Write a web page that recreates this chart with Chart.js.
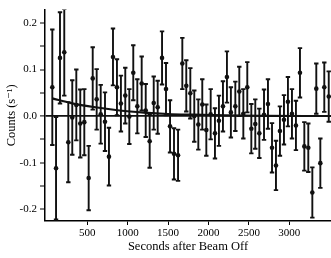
<!DOCTYPE html>
<html>
<head>
<meta charset="utf-8">
<script src="https://cdn.jsdelivr.net/npm/chart.js@4"></script>
<style>
  html, body { margin: 0; padding: 0; background: #fff; }
</style>
</head>
<body>
<canvas id="chart" width="331" height="258"></canvas>
<script>
// time bins (s after beam off), counts and 1-sigma errors
const seconds = [67, 113, 162, 215, 265, 314, 364, 413, 463, 517, 567, 616, 666, 719, 768, 818, 867, 916,
	970, 1020, 1069, 1119, 1173, 1223, 1272, 1322, 1371, 1425, 1474, 1524, 1573, 1623, 1676, 1725, 1775,
	1824, 1874, 1923, 1973, 2027, 2080, 2129, 2179, 2228, 2277, 2332, 2381, 2431, 2480, 2530, 2579, 2629,
	2687, 2736, 2786, 2835, 2884, 2934, 2983, 3033, 3082, 3132, 3186, 3235, 3285, 3334, 3384, 3433, 3488];
const counts = [0.062, -0.112, 0.125, 0.137, -0.056, -0.003, 0.024, -0.016, -0.013, -0.133, 0.081, 0.036,
	0.004, -0.012, -0.087, 0.127, 0.062, 0.027, 0.044, -0.001, 0.093, 0.021, 0.070, 0.012, -0.054, 0.028,
	0.019, 0.125, 0.058, -0.022, -0.081, -0.084, 0.113, 0.065, 0.049, 0.000, -0.018, 0.025, -0.030, 0.004,
	-0.037, -0.010, 0.021, 0.084, 0.008, 0.021, 0.053, 0.005, 0.062, -0.027, -0.017, -0.037, 0.003, 0.026,
	-0.068, -0.106, -0.032, -0.008, 0.031, 0.005, -0.020, 0.093, -0.065, -0.068, -0.164, 0.059, -0.101,
	0.062, 0.042];
const errors = [0.124, 0.110, 0.098, 0.093, 0.086, 0.080, 0.076, 0.073, 0.071, 0.069, 0.067, 0.065,
	0.063, 0.063, 0.062, 0.061, 0.060, 0.060, 0.060, 0.059, 0.059, 0.058, 0.058, 0.057, 0.057, 0.057,
	0.057, 0.057, 0.056, 0.056, 0.055, 0.055, 0.055, 0.055, 0.054, 0.055, 0.054, 0.054, 0.055, 0.054,
	0.054, 0.054, 0.054, 0.055, 0.054, 0.053, 0.053, 0.053, 0.054, 0.053, 0.053, 0.053, 0.054, 0.053,
	0.053, 0.053, 0.053, 0.053, 0.053, 0.053, 0.053, 0.053, 0.052, 0.052, 0.054, 0.054, 0.053, 0.053, 0.054];

// decay fit curve
const fitSeconds = [67, 300, 600, 900, 1200, 1500, 1800, 2200, 2700, 3200, 3516];
const fitCounts = [0.038, 0.028, 0.019, 0.012, 0.0075, 0.0045, 0.003, 0.0015, 0.0007, 0.0003, 0.0002];

const xTicks = [500, 1000, 1500, 2000, 2500, 3000];
const yTicks = [-0.2, -0.15, -0.1, -0.05, 0, 0.05, 0.1, 0.15, 0.2];

Chart.defaults.font.family = '"Liberation Serif", "DejaVu Serif", serif';
Chart.defaults.color = '#000';

const errorBars = {
	id: 'errorBars',
	beforeDatasetsDraw(chart) {
		const { ctx, chartArea: a, scales: { x, y } } = chart;
		ctx.save();
		ctx.beginPath();
		ctx.rect(a.left, a.top, a.right - a.left, a.bottom - a.top);
		ctx.clip();
		ctx.strokeStyle = '#111';
		ctx.lineWidth = 1.9;
		seconds.forEach((t, i) => {
			const px = x.getPixelForValue(t);
			const top = y.getPixelForValue(counts[i] + errors[i]);
			const bot = y.getPixelForValue(counts[i] - errors[i]);
			ctx.beginPath();
			ctx.moveTo(px, top); ctx.lineTo(px, bot);
			ctx.moveTo(px - 2.2, top); ctx.lineTo(px + 2.2, top);
			ctx.moveTo(px - 2.2, bot); ctx.lineTo(px + 2.2, bot);
			ctx.stroke();
		});
		ctx.restore();
	}
};

new Chart(document.getElementById('chart'), {
	type: 'scatter',
	data: {
		datasets: [{
			data: seconds.map((t, i) => ({ x: t, y: counts[i] })),
			pointRadius: 2.3,
			pointBackgroundColor: '#111',
			pointBorderWidth: 0
		}, {
			type: 'line',
			data: fitSeconds.map((t, i) => ({ x: t, y: fitCounts[i] })),
			borderColor: '#111',
			borderWidth: 2.2,
			pointRadius: 0,
			cubicInterpolationMode: 'monotone',
			fill: false
		}]
	},
	options: {
		responsive: false,
		animation: false,
		devicePixelRatio: 1,
		layout: { padding: 0, autoPadding: false },
		plugins: { legend: { display: false }, tooltip: { enabled: false } },
		scales: {
			x: {
				type: 'linear',
				min: -23.5, max: 3516,
				afterBuildTicks: s => { s.ticks = xTicks.map(v => ({ value: v })); },
				afterFit: s => { s.height = 37; },
				border: { color: '#000', width: 1.5 },
				grid: { drawOnChartArea: false, tickLength: 4, tickColor: '#000' },
				ticks: { font: { size: 11 }, padding: 2, maxRotation: 0, callback: v => String(v) },
				title: { display: true, text: 'Seconds after Beam Off', font: { size: 12.5 }, padding: { top: 0, bottom: 4 } }
			},
			y: {
				min: -0.2252, max: 0.2287,
				afterBuildTicks: s => { s.ticks = yTicks.map(v => ({ value: v })); },
				afterFit: s => { s.width = 45; },
				border: { color: '#000', width: 1.5 },
				grid: {
					color: c => c.tick && c.tick.value === 0 ? '#111' : 'rgba(0,0,0,0)',
					lineWidth: c => c.tick && c.tick.value === 0 ? 1.8 : 0,
					tickLength: 5, tickColor: '#000', tickWidth: 1
				},
				ticks: {
					font: { size: 11 }, padding: 3,
					callback: v => Math.abs(v * 10 - Math.round(v * 10)) < 1e-6 ? v.toFixed(1) : ''
				},
				title: { display: true, text: 'Counts (s⁻¹)', font: { size: 12.5 }, padding: { top: 4, bottom: 0 } }
			}
		}
	},
	plugins: [errorBars]
});
</script>
</body>
</html>
